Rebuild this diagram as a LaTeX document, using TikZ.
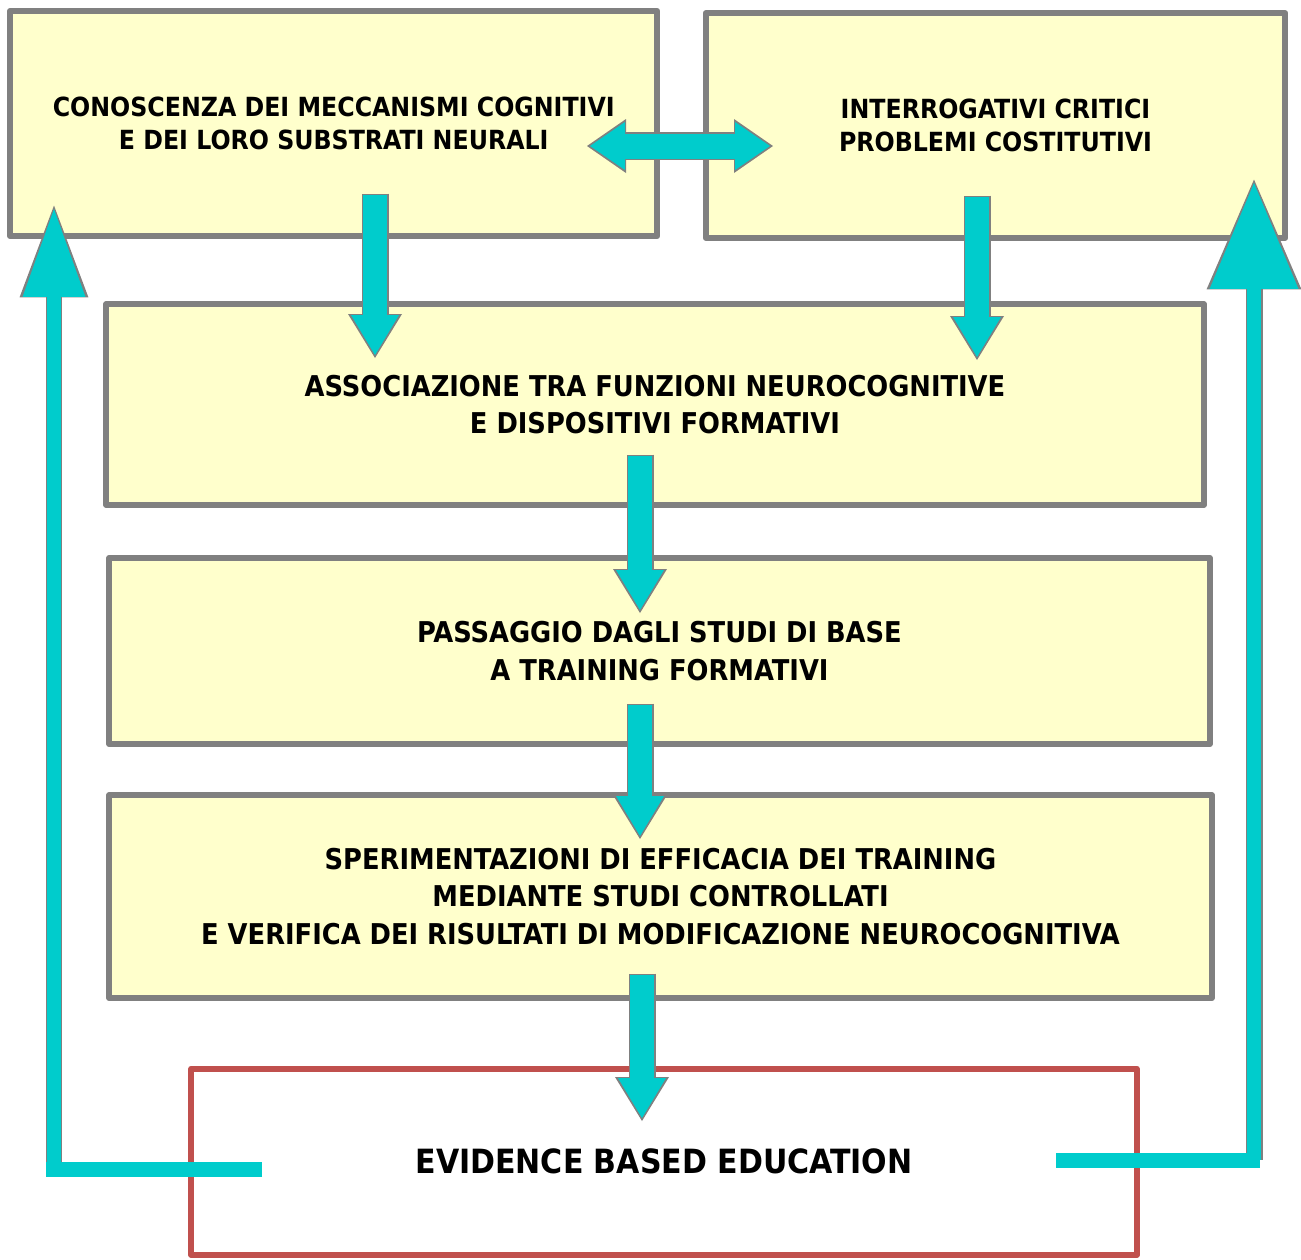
\documentclass[tikz,border=0pt]{standalone}
\usepackage{fontspec}
\setmainfont{DejaVu Sans Condensed}
\usetikzlibrary{arrows.meta}
\definecolor{boxfill}{HTML}{FFFFCC}
\definecolor{boxgray}{HTML}{808080}
\definecolor{boxred}{HTML}{C0504D}
\definecolor{flowcyan}{HTML}{00CCCC}
\tikzset{
  box/.style={draw=boxgray, line width=0.12cm, line join=round, fill=boxfill,
    align=center, inner sep=0pt, font=\bfseries\fontsize{16.3}{21.2}\selectfont},
  topbox/.style={box, font=\bfseries\fontsize{15}{18.8}\selectfont},
  goal/.style={box, draw=boxred, fill=white, font=\bfseries\fontsize{19}{23}\selectfont},
  flow/.style={line width=0.48cm, draw=flowcyan,
    -{Triangle[length=0.8cm, width=0.96cm, line width=0pt]},
    preaction={draw=boxgray, line width=0.54cm, shorten <=-0.03cm, shorten >=-0.06cm,
      -{Triangle[length=0.88cm, width=1.08cm, line width=0pt]}}},
  flowboth/.style={line width=0.5cm, draw=flowcyan,
    {Triangle[length=0.7cm, width=0.96cm, line width=0pt]}-{Triangle[length=0.7cm, width=0.96cm, line width=0pt]},
    preaction={draw=boxgray, line width=0.56cm, shorten <=-0.06cm, shorten >=-0.06cm,
      {Triangle[length=0.78cm, width=1.08cm, line width=0pt]}-{Triangle[length=0.78cm, width=1.08cm, line width=0pt]}}},
  feedup/.style n args={4}{line width=0.28cm, draw=flowcyan,
    -{Triangle[length=#1, width=#2, line width=0pt]},
    preaction={draw=boxgray, line width=0.34cm, shorten >=-0.07cm,
      -{Triangle[length=#3, width=#4, line width=0pt]}}},
  feedbar/.style={line width=0.3cm, draw=flowcyan},
}
\begin{document}
\begin{tikzpicture}[x=0.02cm, y=-0.02cm]
  \useasboundingbox (0,0) rectangle (1301,1259);
  % Top row
  \node[topbox, minimum width=12.95cm, minimum height=4.5cm] (know) at (333.75,123.5)
    {CONOSCENZA DEI MECCANISMI COGNITIVI\\E DEI LORO SUBSTRATI NEURALI};
  \node[topbox, minimum width=11.59cm, minimum height=4.5cm] (quest) at (995.5,125.5)
    {INTERROGATIVI CRITICI\\PROBLEMI COSTITUTIVI};
  % Middle chain
  \node[box, minimum width=21.95cm, minimum height=4.02cm] (assoc) at (655,404.5)
    {ASSOCIAZIONE TRA FUNZIONI NEUROCOGNITIVE\\E DISPOSITIVI FORMATIVI};
  \node[box, minimum width=22.02cm, minimum height=3.72cm] (pass) at (659.5,651)
    {PASSAGGIO DAGLI STUDI DI BASE\\A TRAINING FORMATIVI};
  \node[box, minimum width=22.06cm, minimum height=4.06cm] (exper) at (660.5,896.5)
    {SPERIMENTAZIONI DI EFFICACIA DEI TRAINING\\MEDIANTE STUDI CONTROLLATI\\E VERIFICA DEI RISULTATI DI MODIFICAZIONE NEUROCOGNITIVA};
  % Goal
  \node[goal, minimum width=18.91cm, minimum height=3.73cm] (ebe) at (664,1161.75)
    {EVIDENCE BASED EDUCATION};
  % Arrow ends
  \coordinate (k1) at (375,195);  \coordinate (k2) at (375,355);
  \coordinate (q1) at (977,197);  \coordinate (q2) at (977,357);
  \coordinate (s1) at (640,456);  \coordinate (s2) at (640,610);
  \coordinate (p1) at (640,705);  \coordinate (p2) at (640,836);
  \coordinate (e1) at (642,975);  \coordinate (e2) at (642,1118);
  \coordinate (d1) at (590,146);  \coordinate (d2) at (770,146);
  % Feedback ends
  \coordinate (fl0) at (262,1169); \coordinate (fl1) at (54,1169); \coordinate (fl2) at (54,209);
  \coordinate (fr0) at (1056,1160); \coordinate (fr1) at (1254,1160); \coordinate (fr2) at (1254,183);
  % Flow
  \draw[flowboth] (d1) -- (d2);
  \draw[flow] (k1) -- (k2);
  \draw[flow] (q1) -- (q2);
  \draw[flow] (s1) -- (s2);
  \draw[flow] (p1) -- (p2);
  \draw[flow] (e1) -- (e2);
  % Feedback
  \draw[feedup={1.76cm}{1.26cm}{1.84cm}{1.38cm}] (fl1) -- (fl2);
  \draw[feedbar] (fl0) -- ([xshift=-0.16cm]fl1);
  \draw[feedup={2.12cm}{1.78cm}{2.2cm}{1.9cm}] (fr1) -- (fr2);
  \draw[feedbar] (fr0) -- ([xshift=0.12cm]fr1);
\end{tikzpicture}
\end{document}
